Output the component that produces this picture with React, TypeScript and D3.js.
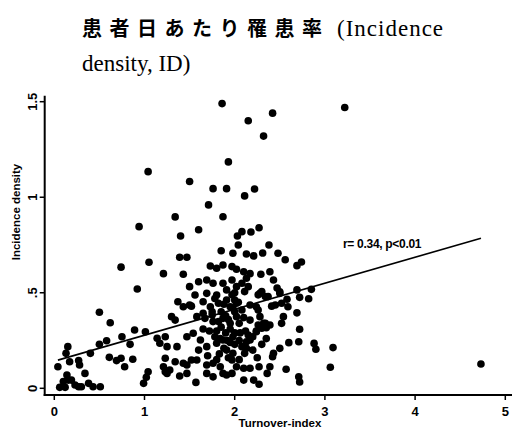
import React from "react";
import * as d3 from "d3";

const titleCJK = "患者日あたり罹患率";
const titleLatin1 = "(Incidence";
const titleLatin2 = "density, ID)";
const xLabel = "Turnover-index";
const yLabel = "Incidence density";
const annotation = "r= 0.34, p<0.01";

const xTicks = [0, 1, 2, 3, 4, 5];
const xTickLabels = ["0", "1", "2", "3", "4", "5"];
const yTicks = [0, 0.5, 1, 1.5];
const yTickLabels = ["0", ".5", "1", "1.5"];

const regIntercept = 0.142;
const regSlope = 0.136;
const regXRange = [0.04, 4.73];

// [turnover-index, incidence density]
const points: [number, number][] = [
  [1.86, 1.49], [2.42, 1.44], [2.15, 1.40], [2.32, 1.32], [3.22, 1.47], [1.93, 1.185],
  [1.04, 1.134], [1.50, 1.082], [1.76, 1.045], [1.91, 1.045], [2.22, 1.043], [2.11, 1.007],
  [1.71, 0.96], [1.34, 0.897], [1.87, 0.898], [0.94, 0.846], [1.40, 0.797], [1.60, 0.83],
  [2.08, 0.82], [2.03, 0.797], [2.18, 0.818], [2.27, 0.84], [2.04, 0.75], [2.38, 0.75],
  [1.85, 0.72],
  [1.98, 0.707], [2.13, 0.703], [2.21, 0.693], [2.31, 0.708], [2.48, 0.707], [2.56, 0.673],
  [2.69, 0.642], [2.74, 0.661], [1.39, 0.686], [1.47, 0.686], [1.05, 0.66], [0.74, 0.634],
  [1.21, 0.60], [1.43, 0.597], [1.73, 0.64], [1.80, 0.628], [1.87, 0.645], [1.97, 0.637],
  [2.02, 0.623], [2.10, 0.61], [2.17, 0.60], [2.29, 0.597], [2.39, 0.61], [2.43, 0.567],
  [2.47, 0.525], [2.50, 0.505], [2.30, 0.506], [2.85, 0.518], [2.69, 0.515], [0.92, 0.52],
  [1.50, 0.532], [1.60, 0.558], [1.69, 0.567], [1.76, 0.55], [1.87, 0.55], [1.97, 0.567],
  [2.02, 0.532], [2.08, 0.55], [2.13, 0.576], [2.28, 0.497], [2.37, 0.48], [2.50, 0.497],
  [2.15, 0.532], [2.11, 0.506], [2.26, 0.489], [2.34, 0.48], [1.91, 0.515], [1.97, 0.489],
  [2.00, 0.462],
  [2.72, 0.476], [2.82, 0.469], [2.58, 0.466], [1.56, 0.488], [1.69, 0.497], [1.80, 0.488],
  [1.37, 0.453], [1.43, 0.427], [1.50, 0.436], [1.52, 0.43], [1.65, 0.453], [1.73, 0.427],
  [1.82, 0.445], [1.91, 0.462], [1.95, 0.427], [2.02, 0.445], [2.08, 0.41], [2.17, 0.436],
  [2.26, 0.41], [2.24, 0.427], [2.41, 0.43], [2.69, 0.395], [0.50, 0.398], [2.45, 0.436],
  [2.52, 0.445], [2.59, 0.427], [1.65, 0.393], [1.75, 0.384],
  [2.54, 0.375], [2.52, 0.34], [2.32, 0.34], [2.35, 0.317], [2.24, 0.30], [2.72, 0.309],
  [1.30, 0.375], [1.34, 0.357], [1.58, 0.375], [1.67, 0.366], [1.76, 0.349], [1.87, 0.366],
  [1.95, 0.34], [2.02, 0.375], [2.17, 0.357], [2.28, 0.375], [2.39, 0.331], [0.62, 0.343],
  [0.89, 0.305], [1.01, 0.296], [2.30, 0.314], [2.34, 0.34], [2.26, 0.331], [2.15, 0.279],
  [0.75, 0.27], [0.58, 0.249], [0.50, 0.23], [0.84, 0.23], [1.14, 0.262], [1.23, 0.27],
  [1.17, 0.236], [1.25, 0.218], [1.36, 0.218], [1.47, 0.27], [1.54, 0.288], [1.62, 0.253],
  [1.69, 0.218], [1.80, 0.236], [1.87, 0.253], [1.98, 0.27], [1.91, 0.20], [2.08, 0.218],
  [2.17, 0.253], [2.60, 0.239], [2.50, 0.209], [2.71, 0.244], [2.88, 0.235], [2.90, 0.204],
  [3.09, 0.213], [0.15, 0.218], [2.13, 0.244], [2.13, 0.209], [2.24, 0.296],
  [0.13, 0.183], [0.40, 0.183], [0.61, 0.162], [0.69, 0.145], [0.74, 0.157], [0.87, 0.152],
  [0.78, 0.113], [0.27, 0.145], [0.28, 0.122], [0.17, 0.139], [0.04, 0.113], [1.98, 0.183],
  [2.43, 0.183], [2.42, 0.165], [1.23, 0.157], [1.34, 0.139], [1.43, 0.131], [1.58, 0.148],
  [1.69, 0.122], [1.76, 0.131], [1.84, 0.113], [1.97, 0.148], [2.02, 0.113], [2.10, 0.105],
  [2.17, 0.105], [2.27, 0.113], [2.39, 0.113], [2.57, 0.10], [1.21, 0.113], [1.28, 0.096],
  [1.52, 0.148], [1.47, 0.122], [3.06, 0.11], [4.73, 0.127], [2.11, 0.183],
  [0.34, 0.078], [1.04, 0.087], [1.02, 0.058], [0.99, 0.026], [0.14, 0.07], [0.155, 0.043],
  [0.10, 0.035], [0.19, 0.043], [0.06, 0.005], [0.12, 0.005], [0.23, 0.017], [0.27, 0.008],
  [0.30, 0.008], [0.38, 0.026], [0.43, 0.008], [0.51, 0.008], [1.25, 0.078], [1.23, 0.087],
  [1.39, 0.064], [1.57, 0.031], [1.87, 0.078], [1.97, 0.078], [2.36, 0.078], [2.72, 0.033],
  [2.71, 0.06], [2.27, 0.021], [2.10, 0.043], [2.21, 0.043], [1.69, 0.078], [1.76, 0.06],
  [1.47, 0.078], [1.91, 0.07],
  [1.80, 0.30], [1.85, 0.32], [1.90, 0.29], [1.95, 0.31], [2.00, 0.29], [1.78, 0.27],
  [1.83, 0.18], [1.88, 0.21], [1.93, 0.16], [2.00, 0.23], [2.05, 0.25], [1.75, 0.40],
  [1.85, 0.40], [1.90, 0.38], [2.00, 0.40], [2.05, 0.34], [1.72, 0.30], [1.65, 0.31],
  [1.60, 0.20], [1.95, 0.24], [2.05, 0.15], [1.70, 0.17], [1.80, 0.15], [2.12, 0.30],
  [2.10, 0.37], [2.20, 0.20], [2.25, 0.16], [2.30, 0.23], [2.20, 0.27], [2.35, 0.26],
  [1.82, 0.35], [1.88, 0.44], [1.93, 0.36], [1.98, 0.42], [2.04, 0.45], [1.78, 0.47],
  [1.92, 0.25], [2.06, 0.29], [1.84, 0.26], [2.00, 0.50],
];

export default function App() {
  const W = 512;
  const H = 436;
  const x = d3.scaleLinear().domain([0, 5]).range([54.3, 505.3]);
  const y = d3.scaleLinear().domain([0, 1.5]).range([388.3, 101.7]);
  const axisX = 44.7;
  const axisY = 395;
  const sans = "'Liberation Sans', Arial, sans-serif";

  const line = d3
    .line<number>()
    .x((d) => x(d))
    .y((d) => y(regIntercept + regSlope * d));

  return (
    <svg
      width={W}
      height={H}
      style={{ position: "absolute", left: 0, top: 0, background: "#fff" }}
    >
      <rect width={W} height={H} fill="#fff" />
      {/* Title */}
      <text y={36} fill="#000" style={{ fontFamily: "'Liberation Serif', 'Noto Sans CJK JP', serif" }}>
        <tspan
          x={82}
          fontFamily="'Noto Sans CJK JP', sans-serif"
          fontSize={20}
          fontWeight="bold"
          letterSpacing={7.5}
        >
          {titleCJK}
        </tspan>
        <tspan x={337} fontSize={23} letterSpacing={1}>
          {titleLatin1}
        </tspan>
      </text>
      <text x={82} y={71} fontSize={23} fill="#000" fontFamily="'Liberation Serif', serif">
        {titleLatin2}
      </text>

      {/* Axes */}
      <line x1={axisX} x2={axisX} y1={y(1.5) - 6} y2={axisY + 1} stroke="#000" strokeWidth={2} />
      <line x1={axisX - 1} x2={W} y1={axisY} y2={axisY} stroke="#000" strokeWidth={2} />
      {xTicks.map((t, i) => (
        <g key={"xt" + i}>
          <line x1={x(t)} x2={x(t)} y1={axisY} y2={axisY + 5} stroke="#000" strokeWidth={1.5} />
          <text
            x={x(t)}
            y={416}
            textAnchor="middle"
            fontFamily={sans}
            fontWeight="bold"
            fontSize={13}
            fill="#000"
          >
            {xTickLabels[i]}
          </text>
        </g>
      ))}
      {yTicks.map((t, i) => (
        <g key={"yt" + i}>
          <line x1={axisX - 5} x2={axisX} y1={y(t)} y2={y(t)} stroke="#000" strokeWidth={1.5} />
          <text
            transform={`translate(36.5,${y(t)}) rotate(-90)`}
            textAnchor="middle"
            fontFamily={sans}
            fontWeight="bold"
            fontSize={13}
            fill="#000"
          >
            {yTickLabels[i]}
          </text>
        </g>
      ))}
      <text
        x={280}
        y={427}
        textAnchor="middle"
        fontFamily={sans}
        fontWeight="bold"
        fontSize={11.5}
        fill="#000"
      >
        {xLabel}
      </text>
      <text
        transform={`translate(20,212) rotate(-90)`}
        textAnchor="middle"
        fontFamily={sans}
        fontWeight="bold"
        fontSize={11.5}
        fill="#000"
      >
        {yLabel}
      </text>

      {/* Points */}
      {points.map((p, i) => (
        <circle key={i} cx={x(p[0])} cy={y(p[1])} r={3.8} fill="#000" />
      ))}

      {/* Regression line */}
      <path d={line(regXRange) || ""} stroke="#000" strokeWidth={1.6} fill="none" />
      <text
        x={343}
        y={248}
        fontFamily={sans}
        fontWeight="bold"
        fontSize={12}
        letterSpacing={-0.3}
        fill="#000"
      >
        {annotation}
      </text>
    </svg>
  );
}
